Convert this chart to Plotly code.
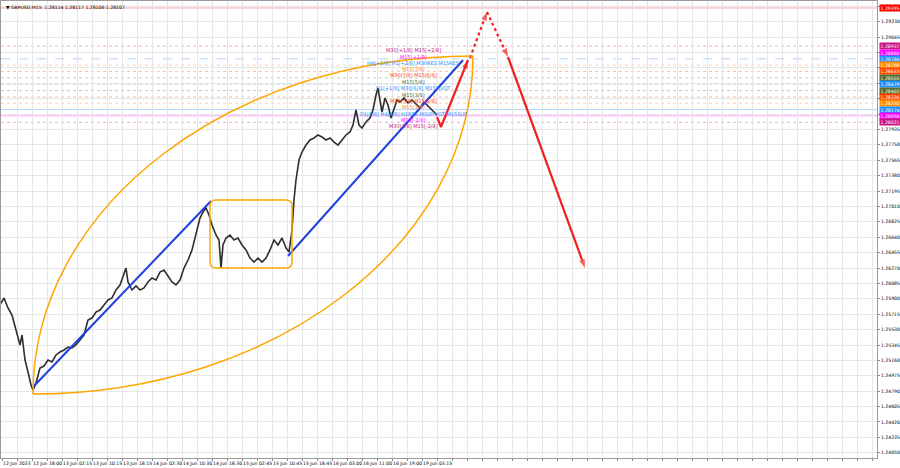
import plotly.graph_objects as go

# ---------------- data ----------------
bars = [0, 4, 8, 12, 16, 20, 22, 25, 28, 31, 33, 36, 40, 44, 48, 52, 56, 60, 64, 68, 72, 76, 80, 84, 88,
        92, 96, 100, 104, 108, 112, 116, 120, 124, 126, 128, 132, 136, 140, 144, 148, 152, 156, 160, 164,
        168, 172, 176, 180, 184, 188, 192, 196, 200, 203, 206, 209, 212, 216, 219, 221, 223, 226, 230,
        234, 238, 242, 246, 250, 254, 258, 262, 266, 270, 274, 278, 282, 286, 289, 292, 294, 296, 299,
        302, 306, 310, 314, 318, 322, 326, 330, 334, 338, 342, 346, 350, 353, 356, 359, 362, 366, 370,
        373, 376, 378, 380, 382, 385, 388, 391, 394, 397, 400, 404, 408, 412, 416, 420, 424, 428, 432,
        436, 437]
closes = [1.25826, 1.25910, 1.25790, 1.25705, 1.25525, 1.25345, 1.25465, 1.25165, 1.25020, 1.24864,
          1.24804, 1.24888, 1.25068, 1.25092, 1.25165, 1.25141, 1.25225, 1.25261, 1.25285, 1.25321,
          1.25309, 1.25345, 1.25405, 1.25465, 1.25645, 1.25669, 1.25741, 1.25765, 1.25826, 1.25886,
          1.25910, 1.26006, 1.26066, 1.26222, 1.26270, 1.26102, 1.26006, 1.26054, 1.26006, 1.26030,
          1.26102, 1.26150, 1.26126, 1.26222, 1.26246, 1.26174, 1.26102, 1.26066, 1.26126, 1.26270,
          1.26366, 1.26487, 1.26667, 1.26871, 1.26943, 1.26991, 1.26907, 1.26787, 1.26667, 1.26607,
          1.26270, 1.26547, 1.26631, 1.26667, 1.26607, 1.26631, 1.26547, 1.26487, 1.26390, 1.26342,
          1.26390, 1.26342, 1.26390, 1.26487, 1.26607, 1.26547, 1.26631, 1.26511, 1.26462, 1.26727,
          1.27087, 1.27328, 1.27568, 1.27664, 1.27748, 1.27809, 1.27833, 1.27869, 1.27845, 1.27809,
          1.27833, 1.27784, 1.27748, 1.27809, 1.27869, 1.27905, 1.27989, 1.28169, 1.27989, 1.27953,
          1.28025, 1.28073, 1.28169, 1.28349, 1.28433, 1.28289, 1.28145, 1.28313, 1.28229, 1.28073,
          1.28193, 1.28289, 1.28265, 1.28313, 1.28253, 1.28289, 1.28241, 1.28193, 1.28265, 1.28217,
          1.28169, 1.28121, 1.28109]

x_label_bars = [2, 32, 62, 92, 122, 152, 182, 212, 242, 272, 302, 332, 362, 392, 422]
x_labels = ["12 Jun 2023", "12 Jun 18:00", "13 Jun 02:15", "13 Jun 10:15", "13 Jun 18:15",
            "14 Jun 02:30", "14 Jun 10:30", "14 Jun 18:30", "15 Jun 02:45", "15 Jun 10:45",
            "15 Jun 18:45", "16 Jun 03:00", "16 Jun 11:00", "16 Jun 19:00", "19 Jun 03:15"]

price_ticks = [1.24050, 1.24235, 1.24420, 1.24605, 1.24790, 1.24975, 1.25160, 1.25345, 1.25530,
               1.25715, 1.25900, 1.26085, 1.26270, 1.26455, 1.26640, 1.26825, 1.27010, 1.27195,
               1.27380, 1.27565, 1.27750, 1.27935, 1.28120, 1.28305, 1.28490, 1.28675, 1.28860,
               1.29045, 1.29230, 1.29415]
hidden_ticks = [1.28120, 1.28305, 1.28490, 1.28675, 1.28860]

levels = [1.28937, 1.28860, 1.28784, 1.28708, 1.28633, 1.28555, 1.28479, 1.28403, 1.28326,
          1.28250, 1.28174, 1.28098, 1.28021]
level_texts = ["M30[+1/8] M15[+2/8]", "M15[+1/8]", "H4[+1/8] H1[+2/8] M30RES M15RES", "M15[7/8]",
               "M30[7/8] M15[6/8]", "M15[5/8]", "H1[+1/8] M30[6/8] M15PIVOT", "M15[3/8]",
               "M30[5/8] M15[2/8]", "M15[1/8]", "D1[6/8] H4[6/8] H1RES M30PIVOT M15SUP",
               "M15[-1/8]", "M30[3/8] M15[-2/8]"]
resistance_price = 1.29395

trend1_x = [34, 211]
trend1_y = [1.24852, 1.27075]
trend2_x = [288, 463]
trend2_y = [1.26414, 1.28770]

red1_x = [437, 441, 468]
red1_y = [1.28085, 1.27965, 1.28770]
red_dot1_x = [470, 487]
red_dot1_y = [1.28794, 1.29347]
red_dot2_x = [487, 508]
red_dot2_y = [1.29347, 1.28806]
red2_x = [508, 585]
red2_y = [1.28806, 1.26270]

arc_x = [33, 473]
arc_y = [1.24756, 1.28818]
box_x = [210, 292]
box_y = [1.26270, 1.27087]

title_text = "GBPUSD,M15  1.28114 1.28117 1.28106 1.28107"

# ---------------- styles ----------------
level_colors = ["#C71585", "#FF00FF", "#1E90FF", "#FF8C00", "#FF4500", "#556B2F", "#1E90FF",
                "#556B2F", "#FF4500", "#FF8C00", "#1E90FF", "#FF00FF", "#C71585"]
level_dash = ["dot", "solid", "dash", "dot", "dot", "dot", "dot", "dot", "dot", "dot", "solid",
              "solid", "dot"]
FONT = "DejaVu Sans"
X0, X1 = 1, 877
Y0, Y1 = 1.23987, 1.29479
grid_col = "#E6E6E6"

fig = go.Figure()

# Murrey lines
for lv, col, ds in zip(levels, level_colors, level_dash):
    fig.add_shape(type="line", xref="paper", x0=0, x1=1, yref="y", y0=lv, y1=lv,
                  line=dict(color=col, width=1, dash=ds), opacity=0.35, layer="below")
fig.add_shape(type="line", xref="paper", x0=0, x1=1, yref="y", y0=resistance_price,
              y1=resistance_price, line=dict(color="#FF0000", width=1), opacity=0.35, layer="below")

# price
fig.add_trace(go.Scatter(x=bars, y=closes, mode="lines",
                         line=dict(color="#2E2E2E", width=1.6), hoverinfo="skip"))

# orange arcs (quarter ellipses) & rounded box
k = 0.5523
xa, xb = arc_x
pa, pb = arc_y
dx, dp = xb - xa, pb - pa
upper = f"M {xa},{pa} C {xa},{pa + k*dp} {xb - k*dx},{pb} {xb},{pb}"
lower = f"M {xa},{pa} C {xa + k*dx},{pa} {xb},{pb - k*dp} {xb},{pb}"
for p in (upper, lower):
    fig.add_shape(type="path", path=p, xref="x", yref="y",
                  line=dict(color="#FFA500", width=1.5))
bx0, bx1 = box_x
by0, by1 = box_y
rx = 6
ry = rx * (Y1 - Y0) / 457
box = (f"M {bx0+rx},{by1} L {bx1-rx},{by1} Q {bx1},{by1} {bx1},{by1-ry} "
       f"L {bx1},{by0+ry} Q {bx1},{by0} {bx1-rx},{by0} L {bx0+rx},{by0} "
       f"Q {bx0},{by0} {bx0},{by0+ry} L {bx0},{by1-ry} Q {bx0},{by1} {bx0+rx},{by1} Z")
fig.add_shape(type="path", path=box, xref="x", yref="y",
              line=dict(color="#FFA500", width=1.5))

# blue trend lines
for tx, ty in ((trend1_x, trend1_y), (trend2_x, trend2_y)):
    fig.add_trace(go.Scatter(x=tx, y=ty, mode="lines", line=dict(color="#1F3FE0", width=2),
                             hoverinfo="skip"))

# red arrows
def arrow(xs, ys, dash):
    sizes = [0] * (len(xs) - 1) + [9]
    fig.add_trace(go.Scatter(x=xs, y=ys, mode="lines+markers",
                             line=dict(color="#F02020", width=2.2, dash=dash),
                             marker=dict(symbol="arrow", angleref="previous", size=sizes,
                                         color="#F02020", line=dict(width=0)),
                             hoverinfo="skip"))

arrow(red1_x, red1_y, "solid")
arrow(red_dot1_x, red_dot1_y, "dot")
arrow(red_dot2_x, red_dot2_y, "dot")
arrow(red2_x, red2_y, "solid")

# Murrey texts
for lv, col, t in zip(levels, level_colors, level_texts):
    fig.add_annotation(x=413, y=lv, xref="x", yref="y", text=t, showarrow=False,
                       xanchor="center", yanchor="top", yshift=1,
                       font=dict(family=FONT, size=5, color=col))

# right side price boxes
for lv, col in zip(levels, level_colors):
    fig.add_annotation(x=1, y=lv, xref="paper", yref="y", text=f"{lv:.5f}", showarrow=False,
                       xanchor="left", yanchor="middle", xshift=2, bgcolor=col, borderpad=0.5,
                       font=dict(family=FONT, size=4.6, color="white"))
fig.add_annotation(x=1, y=resistance_price, xref="paper", yref="y", text=f"{resistance_price:.5f}",
                   showarrow=False, xanchor="left", yanchor="middle", xshift=2, bgcolor="#FF0000",
                   borderpad=0.5, font=dict(family=FONT, size=4.6, color="white"))

# title
fig.add_annotation(x=0, y=1, xref="paper", yref="paper", text="▼ " + title_text, showarrow=False,
                   xanchor="left", yanchor="top", xshift=3, yshift=-2,
                   font=dict(family=FONT, size=4.6, color="black"))

# axes
grid_bars = list(range(x_label_bars[0], X1, 30))
grid_text = x_labels + [""] * (len(grid_bars) - len(x_labels))
ytext = ["" if t in hidden_ticks else f"{t:.5f}" for t in price_ticks]

fig.update_xaxes(range=[X0, X1], tickmode="array", tickvals=grid_bars, ticktext=grid_text,
                 ticklabelposition="outside right", tickangle=0, automargin=False,
                 ticks="outside", ticklen=2, tickcolor="#888",
                 showgrid=True, gridcolor=grid_col, gridwidth=1, zeroline=False,
                 minor=dict(tickmode="linear", tick0=17, dtick=30, showgrid=True,
                            gridcolor=grid_col, ticks="outside", ticklen=2, tickcolor="#888"),
                 showline=True, linecolor="#9A9A9A", mirror=True,
                 tickfont=dict(family=FONT, size=4.6, color="black"))
fig.update_yaxes(range=[Y0, Y1], side="right", tickmode="array", tickvals=price_ticks,
                 ticktext=ytext, ticks="outside", ticklen=2, tickcolor="#888", automargin=False,
                 showgrid=True, gridcolor=grid_col, zeroline=False,
                 showline=True, linecolor="#9A9A9A", mirror=True,
                 tickfont=dict(family=FONT, size=4.6, color="black"))

fig.update_layout(width=900, height=468, margin=dict(l=1, r=23, t=1, b=10, autoexpand=False),
                  plot_bgcolor="white", paper_bgcolor="white", showlegend=False)

fig.write_html("out.html", config={"displayModeBar": False},
               post_script="document.body.style.margin='0';")
